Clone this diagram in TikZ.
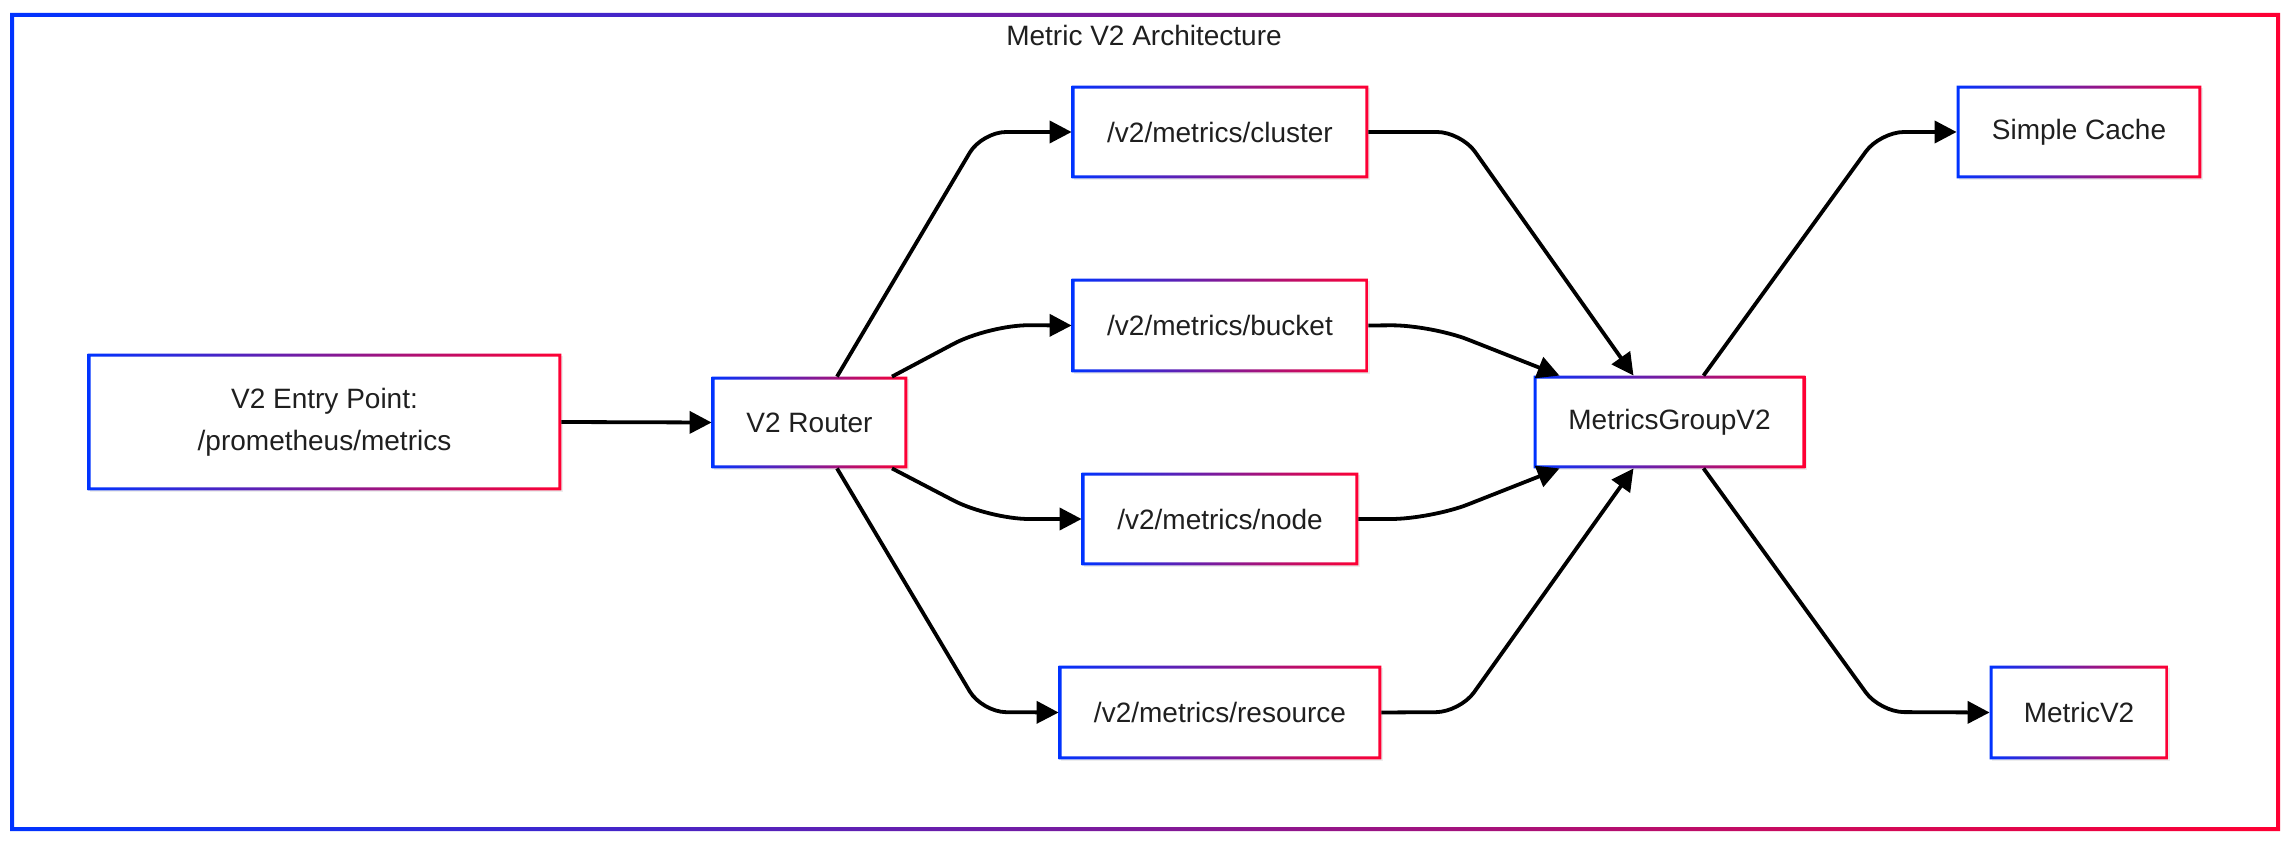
\documentclass[tikz,border=0pt]{standalone}
\usepackage{fontspec}
\setmainfont{Liberation Sans}
\usetikzlibrary{arrows.meta,calc,shadows}
\definecolor{cblue}{HTML}{0033FF}
\definecolor{cred}{HTML}{FF0033}
\newcommand{\gradframe}[2]{%
  \shade[left color=cblue,right color=cred,even odd rule]
    (#1.south west) rectangle (#1.north east)
    ([shift={(#2,#2)}]#1.south west) rectangle ([shift={(-#2,-#2)}]#1.north east);}
\tikzset{
  box/.style={draw=none, fill=white, inner sep=0pt, align=center, text=black!88,
    font=\fontsize{14}{21}\selectfont,
    drop shadow={shadow xshift=1.2pt, shadow yshift=-1.2pt, opacity=0.14}},
  arr/.style={line width=1.9pt, -{Triangle[length=11pt,width=11pt]}, rounded corners=12pt},
  softarr/.style={arr, rounded corners=20pt},
  titletext/.style={font=\fontsize{14}{17}\selectfont, text=black!88, inner sep=0pt}
}
\begin{document}
\begin{tikzpicture}[x=0.5pt,y=-0.5pt]
\useasboundingbox (0,0) rectangle (2296,844);
\fill[white] (0,0) rectangle (2296,844);
% outer frame
\shade[left color=cblue,right color=cred,even odd rule]
  (10,13) rectangle (2280,831) (14,17) rectangle (2276,827);
\node[titletext] (title) at (1144,35) {Metric V2 Architecture};

% nodes
\node[box, minimum width=236.5pt, minimum height=68pt] (entry) at (324.5,422) {V2 Entry Point:\\/prometheus/metrics};
\node[box, minimum width=97.5pt, minimum height=45.5pt] (router) at (809.5,422.5) {V2 Router};
\node[box, minimum width=148pt, minimum height=46pt] (cluster) at (1220,132) {/v2/metrics/cluster};
\node[box, minimum width=148pt, minimum height=46.5pt] (bucket) at (1220,325.5) {/v2/metrics/bucket};
\node[box, minimum width=138pt, minimum height=46pt] (nodeep) at (1220,519) {/v2/metrics/node};
\node[box, minimum width=161pt, minimum height=46.5pt] (resource) at (1220,712.5) {/v2/metrics/resource};
\node[box, minimum width=135.5pt, minimum height=46pt] (mg) at (1669.5,422) {MetricsGroupV2};
\node[box, minimum width=122pt, minimum height=46pt] (cache) at (2079,132) {Simple Cache};
\node[box, minimum width=89pt, minimum height=46.5pt] (mv2) at (2079,712.5) {MetricV2};

\foreach \n in {entry,router,cluster,bucket,nodeep,resource,mg,cache,mv2}{\gradframe{\n}{1.5pt}}

% bend points
\coordinate (c1) at (982,132);
\coordinate (c2) at (989,325);
\coordinate (c3) at (989,519);
\coordinate (c4) at (982,712);
\coordinate (d1) at (1461,132);
\coordinate (d2) at (1431,325);
\coordinate (d3) at (1431,519);
\coordinate (d4) at (1460,712);
\coordinate (e1) at (1880,132);
\coordinate (e2) at (1880,712);

% edges
\draw[arr] (entry.east) -- (router.west);
\draw[arr] ($(router.north)+(27.5,0)$) -- (c1) -- (cluster.west);
\draw[softarr] ($(router.north)+(82.5,0)$) -- (c2) -- (bucket.west);
\draw[softarr] ($(router.south)+(82.5,0)$) -- (c3) -- (nodeep.west);
\draw[arr] ($(router.south)+(27.5,0)$) -- (c4) -- (resource.west);
\draw[arr] (cluster.east) -- (d1) -- ($(mg.north)+(-36,0)$);
\draw[softarr] (bucket.east) -- (d2) -- ($(mg.north)+(-110,0)$);
\draw[softarr] (nodeep.east) -- (d3) -- ($(mg.south)+(-110,0)$);
\draw[arr] (resource.east) -- (d4) -- ($(mg.south)+(-36,0)$);
\draw[arr] ($(mg.north)+(34,0)$) -- (e1) -- (cache.west);
\draw[arr] ($(mg.south)+(34,0)$) -- (e2) -- (mv2.west);
\end{tikzpicture}
\end{document}
